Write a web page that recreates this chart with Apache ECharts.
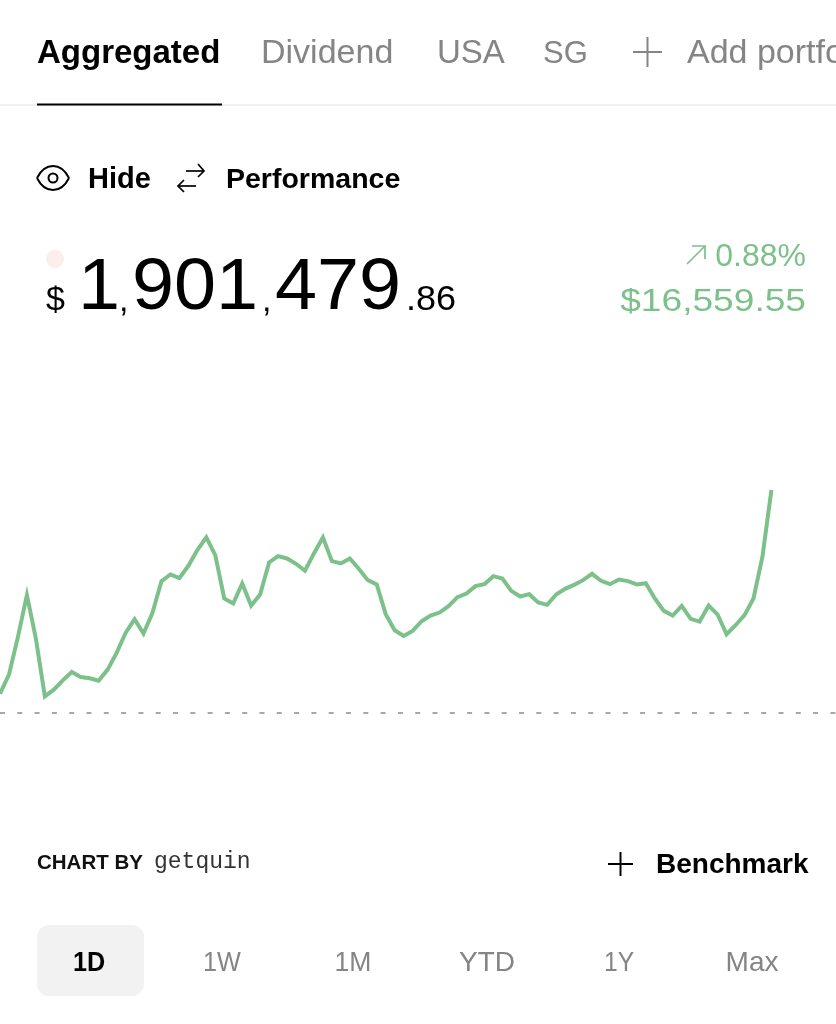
<!DOCTYPE html>
<html>
<head>
<meta charset="utf-8">
<title>Portfolio</title>
<style>
    html, body { margin: 0; padding: 0; background: #fff; }
    #main { width: 836px; height: 1024px; }
</style>
<script src="https://cdn.jsdelivr.net/npm/echarts@6/dist/echarts.min.js"></script>
</head>
<body>
<div id="main"></div>
<script>
    // gain against previous close, in dollars, one value per sample
    var gainValues = [
        1438, 2851, 5652, 8751, 5528, 1240, 1735, 2429, 3049, 2677,
        2578, 2405, 3223, 4462, 5950, 6966, 5900, 7437, 9792, 10288,
        10015, 10932, 12098, 13040, 11726, 8503, 8131, 9619, 7982, 8800,
        11180, 11651, 11478, 11081, 10561, 11850, 13040, 11279, 11106, 11478,
        10709, 9866, 9544, 7338, 6148, 5726, 6098, 6817, 7239, 7462,
        7933, 8602, 8875, 9420, 9569, 10164, 9990, 9073, 8652, 8825,
        8205, 8032, 8800, 9222, 9519, 9866, 10337, 9817, 9569, 9916,
        9792, 9544, 9643, 8503, 7586, 7239, 7958, 6991, 6792, 7982,
        7313, 5850, 6520, 7263, 8503, 11602, 16559.55
    ];
    var portfolioTabs = ['Aggregated', 'Dividend', 'USA', 'SG', 'Add portfolio'];
    var rangeLabels = ['1D', '1W', '1M', 'YTD', '1Y', 'Max'];
    var rangeCenters = [89, 222, 353, 487, 619, 752];
    var rangeScale = [0.9, 0.9, 0.95, 1, 0.88, 1];

    var GREEN = '#7cc08a';
    var GREY = '#858585';
    var FONT = '"Liberation Sans", Arial, sans-serif';
    var MONO = '"Liberation Mono", monospace';

    // y is the text baseline; zrender only does top/middle/bottom so shift to middle
    function txt(x, y, text, size, color, weight, align, scaleX, family) {
        return {
            type: 'text',
            x: x,
            y: y - size * (family === MONO ? 0.25 : 0.34),
            scaleX: scaleX || 1,
            silent: true,
            style: {
                x: 0,
                y: 0,
                text: text,
                fill: color,
                font: (weight || 'normal') + ' ' + size + 'px ' + (family || FONT),
                align: align || 'left',
                verticalAlign: 'middle'
            }
        };
    }

    function stroke(points, color, width) {
        return {
            type: 'polyline',
            silent: true,
            shape: { points: points },
            style: { stroke: color, lineWidth: width, fill: null }
        };
    }

    function curve(x1, y1, cx1, cy1, cx2, cy2, x2, y2) {
        return {
            type: 'bezierCurve',
            silent: true,
            shape: { x1: x1, y1: y1, cpx1: cx1, cpy1: cy1, cpx2: cx2, cpy2: cy2, x2: x2, y2: y2 },
            style: { stroke: '#000', lineWidth: 2, fill: null }
        };
    }

    var elements = [
        // tabs
        txt(37, 65, portfolioTabs[0], 33, '#000', 'bold'),
        txt(261, 65, portfolioTabs[1], 34, GREY),
        txt(437, 65, portfolioTabs[2], 33, GREY),
        txt(543, 65, portfolioTabs[3], 31, GREY),
        stroke([[633, 52], [662, 52]], GREY, 2),
        stroke([[647.5, 37], [647.5, 67]], GREY, 2),
        txt(687, 65, portfolioTabs[4], 34, GREY),
        stroke([[0, 105], [836, 105]], '#f1f1f1', 2),
        stroke([[37, 104.5], [222, 104.5]], '#000', 2),

        // hide / performance row
        curve(37, 178, 45, 162, 61, 162, 69, 178),
        curve(69, 178, 61, 194, 45, 194, 37, 178),
        {
            type: 'circle',
            silent: true,
            shape: { cx: 53, cy: 178, r: 4.5 },
            style: { stroke: '#000', lineWidth: 2, fill: null }
        },
        txt(88, 190, 'Hide', 29, '#000', 'bold'),
        stroke([[186, 171], [204, 171]], '#000', 1.7),
        stroke([[198, 164], [204, 171], [198, 177]], '#000', 1.7),
        stroke([[178, 186], [196, 186]], '#000', 1.7),
        stroke([[184, 180], [178, 186], [184, 192]], '#000', 1.7),
        txt(226, 190, 'Performance', 28.5, '#000', 'bold'),

        // total value
        {
            type: 'circle',
            silent: true,
            shape: { cx: 55, cy: 259, r: 9 },
            style: { fill: '#fbeeeb' }
        },
        txt(46, 312, '$', 34, '#000'),
        txt(78, 314, '1', 72, '#000', 'normal', 'left', 1.05),
        txt(119, 313, ',', 34, '#000'),
        txt(132, 314, '901', 72, '#000', 'normal', 'left', 1.05),
        txt(262, 313, ',', 34, '#000'),
        txt(275, 314, '479', 72, '#000', 'normal', 'left', 1.05),
        txt(406, 312, '.86', 35, '#000', 'normal', 'left', 1.03),

        // change
        stroke([[687, 264], [705, 246]], GREEN, 1.7),
        stroke([[692, 246], [705, 246], [705, 259]], GREEN, 1.7),
        txt(806, 268, '0.88%', 32, GREEN, 'normal', 'right'),
        txt(806, 313, '$16,559.55', 32, GREEN, 'normal', 'right', 1.16),

        // footer row
        txt(37, 870, 'CHART BY', 20.5, '#111', 'bold'),
        txt(154, 868, 'getquin', 23, '#333', 'normal', 'left', 1, MONO),
        stroke([[608, 864], [633, 864]], '#000', 2),
        stroke([[620.5, 852], [620.5, 876]], '#000', 2),
        txt(656, 875, 'Benchmark', 28, '#000', 'bold'),

        // range selector
        {
            type: 'rect',
            silent: true,
            shape: { x: 37, y: 925, width: 107, height: 71, r: 12 },
            style: { fill: '#f2f2f2' }
        }
    ];

    rangeLabels.forEach(function (label, i) {
        elements.push(txt(rangeCenters[i], 973, label, 28, i === 0 ? '#000' : GREY, i === 0 ? 'bold' : 'normal', 'center', rangeScale[i]));
    });

    var dom = document.getElementById('main');
    var chart = echarts.init(dom, null, { renderer: 'canvas' });

    chart.setOption({
        animation: false,
        backgroundColor: '#fff',
        grid: { left: 0, right: 0, top: 470.6, height: 296.3 },
        xAxis: {
            type: 'value',
            min: 0,
            max: 93.2,
            show: false
        },
        yAxis: {
            type: 'value',
            min: -4000,
            max: 18000,
            show: false
        },
        graphic: { elements: elements },
        series: [
            {
                type: 'line',
                showSymbol: false,
                silent: true,
                data: gainValues.map(function (v, i) { return [i, v]; }),
                lineStyle: { color: GREEN, width: 4, join: 'miter', cap: 'butt' },
                markLine: {
                    silent: true,
                    symbol: 'none',
                    label: { show: false },
                    lineStyle: { color: '#a8a8a8', width: 2, type: [5, 12.3] },
                    data: [{ yAxis: 0 }]
                }
            }
        ]
    });
</script>
</body>
</html>
